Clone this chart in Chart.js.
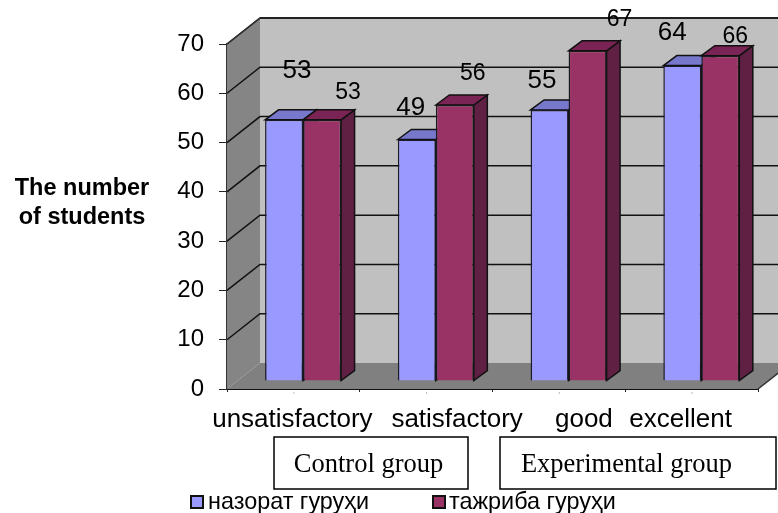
<!DOCTYPE html>
<html><head><meta charset="utf-8">
<style>html,body{margin:0;padding:0;background:#fff}canvas{display:block}</style>
<script src="https://cdn.jsdelivr.net/npm/chart.js@4"></script></head>
<body><canvas id="c" width="778" height="513"></canvas>
<script>
const categories = ["unsatisfactory","satisfactory","good","excellent"];
const controlValues = [53,49,55,64];
const experimentalValues = [53,56,67,66];
const controlLabels = ["53","49","55","64"];
const experimentalLabels = ["53","56","67","66"];
const seriesNames = ["назорат гуруҳи","тажриба гуруҳи"];
const yTitleLines = ["The number","of students"];
const groupBoxes = ["Control group","Experimental group"];

// layout only
const SANS = '"Liberation Sans", Arial, sans-serif', SERIF = '"Liberation Serif", serif';
const WALL = {dx:33, dy:-26}, PLANE = {dx:9.7, dy:-8}, BAR = {dx:13.5, dy:-10};
const catLabelShift = [-1,31,25,-11];
const labelOffsets = [
  [[13,-49],[-6,-32],[-7.5,-29],[-10,-33]],
  [[26,-27],[18,-31],[32,-31],[15,-19]]
];
const faces = [{top:"#7777CC",side:"#6666AA"},{top:"#7A2355",side:"#5F2044"}];

function poly(ctx,pts,fill,stroke,w){
  ctx.beginPath();pts.forEach((p,i)=>i?ctx.lineTo(p[0],p[1]):ctx.moveTo(p[0],p[1]));ctx.closePath();
  if(fill){ctx.fillStyle=fill;ctx.fill();}
  if(stroke){ctx.strokeStyle=stroke;ctx.lineWidth=w||1;ctx.stroke();}
}
const threeD = {
  id:"threeD",
  beforeDatasetsDraw(chart){
    const {ctx,chartArea:a,scales:{y}} = chart;
    const L=a.left,R=a.right,T=a.top,B=a.bottom,dx=WALL.dx,dy=WALL.dy;
    ctx.save();
    poly(ctx,[[L+dx,T+dy],[chart.width+20,T+dy],[chart.width+20,B+dy],[L+dx,B+dy]],"#C0C0C0");
    poly(ctx,[[L,T],[L+dx,T+dy],[L+dx,B+dy],[L,B]],"#858585");
    poly(ctx,[[L,B],[L+dx,B+dy],[R+dx,B+dy],[R,B]],"#808080");
    ctx.strokeStyle="#5a5a5a";ctx.lineWidth=2;
    ctx.beginPath();ctx.moveTo(L+dx,T+dy);ctx.lineTo(chart.width,T+dy);ctx.stroke();
    ctx.strokeStyle="#111";ctx.lineWidth=1.5;
    for(let v=10;v<=70;v+=10){
      const p=y.getPixelForValue(v);
      ctx.beginPath();ctx.moveTo(L,p);ctx.lineTo(L+dx,p+dy);ctx.lineTo(chart.width,p+dy);ctx.stroke();
    }
    ctx.strokeStyle="#333";ctx.lineWidth=1.5;
    ctx.beginPath();ctx.moveTo(L,T);ctx.lineTo(L+dx,T+dy);ctx.moveTo(R,B);ctx.lineTo(R+dx,B+dy);ctx.stroke();
    // bar tops and sides
    ctx.translate(PLANE.dx,PLANE.dy);
    [0,1].forEach(i=>{
      chart.getDatasetMeta(i).data.forEach(b=>{
        const w=b.width/2,l=b.x-w,r=b.x+w,t=b.y,bo=b.base;
        poly(ctx,[[r,t],[r+BAR.dx,t+BAR.dy],[r+BAR.dx,bo+BAR.dy],[r,bo]],faces[i].side,"#111",1.5);
        poly(ctx,[[l,t],[l+BAR.dx,t+BAR.dy],[r+BAR.dx,t+BAR.dy],[r,t]],faces[i].top,"#111",1.5);
      });
    });
    ctx.restore();
    ctx.save();
    ctx.translate(PLANE.dx,PLANE.dy);
  },
  afterDatasetsDraw(chart){
    const {ctx,scales:{x}} = chart;
    ctx.restore();
    ctx.save();
    ctx.textAlign="center";ctx.textBaseline="middle";ctx.fillStyle="#000";
    // value labels
    [controlLabels,experimentalLabels].forEach((labels,i)=>{
      ctx.font=(i?"23px ":"26px ")+SANS;
      chart.getDatasetMeta(i).data.forEach((b,k)=>{
        ctx.fillText(labels[k],b.x+PLANE.dx+labelOffsets[i][k][0],b.y+PLANE.dy+labelOffsets[i][k][1]);
      });
    });
    // category labels and their faint tick marks
    ctx.font="26px "+SANS;
    categories.forEach((c,k)=>{
      const cx=x.getPixelForValue(k);
      ctx.fillStyle="#bbb";ctx.fillRect(cx,392,1,2);
      ctx.fillStyle="#000";
      ctx.fillText(c,cx+catLabelShift[k],420);
    });
    // y title
    ctx.font="bold 23.5px "+SANS;
    yTitleLines.forEach((t,k)=>ctx.fillText(t,82,189+k*29));
    // group boxes
    ctx.strokeStyle="#000";ctx.lineWidth=1.5;
    ctx.strokeRect(274,437,194,52);ctx.strokeRect(500,437,276,52);
    ctx.font="26.5px "+SERIF;
    ctx.fillText(groupBoxes[0],368.5,465);
    ctx.fillText(groupBoxes[1],626.5,465);
    // legend
    ctx.textAlign="left";ctx.font="23.4px "+SANS;
    [[191,208],[433,449]].forEach((p,i)=>{
      ctx.fillStyle=chart.data.datasets[i].backgroundColor;
      ctx.strokeStyle="#111";ctx.lineWidth=2;
      ctx.fillRect(p[0],496,12,12);ctx.strokeRect(p[0],496,12,12);
      ctx.fillStyle="#000";
      ctx.fillText(seriesNames[i],p[1],503);
    });
    ctx.restore();
  }
};
new Chart(document.getElementById("c"),{
  type:"bar",
  data:{labels:categories,datasets:[
    {label:seriesNames[0],data:controlValues,backgroundColor:"#9999FF",borderColor:"#1a1a2a",borderWidth:1.5},
    {label:seriesNames[1],data:experimentalValues,backgroundColor:"#993366",borderColor:"#1a1a1a",borderWidth:1.5}
  ]},
  options:{
    responsive:false,animation:false,devicePixelRatio:1,
    layout:{padding:{left:0,right:20,top:44,bottom:0}},
    datasets:{bar:{categoryPercentage:0.5725,barPercentage:1}},
    plugins:{legend:{display:false},tooltip:{enabled:false}},
    scales:{
      x:{afterFit(s){s.height=124;},
         grid:{drawOnChartArea:false,tickLength:3,color:"#222"},
         border:{color:"#111",width:2},
         ticks:{display:false}},
      y:{min:0,max:70,afterFit(s){s.width=227;},
         grid:{drawOnChartArea:false,tickLength:8,color:"#222"},
         border:{color:"#333",width:1.5},
         ticks:{stepSize:10,padding:15,color:"#000",font:{family:SANS,size:24}}}
    }
  },
  plugins:[threeD]
});
</script></body></html>
